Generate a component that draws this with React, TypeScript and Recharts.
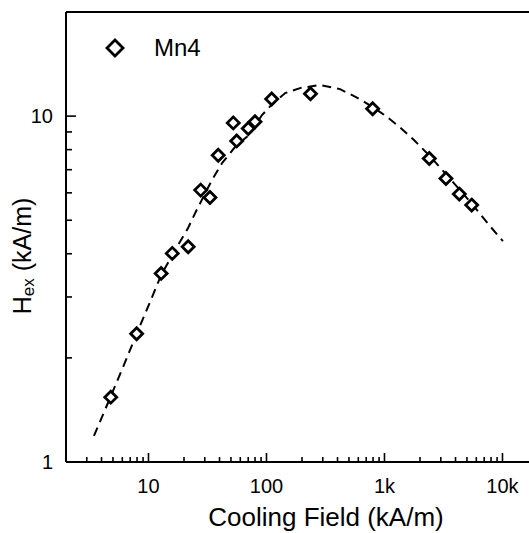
import {
  ScatterChart,
  Scatter,
  XAxis,
  YAxis,
  ReferenceLine,
  Legend,
} from "recharts";

// measured points (Cooling Field kA/m, Hex kA/m)
const fieldValues = [
  4.79, 7.94, 12.8, 15.9, 21.7, 27.7, 33.2, 39.0, 52.3, 55.9, 70.1, 79.9, 110.7,
  236, 794, 2397, 3319, 4306, 5483,
];
const hexValues = [
  1.54, 2.35, 3.51, 4.01, 4.19, 6.11, 5.82, 7.71, 9.56, 8.48, 9.21, 9.63, 11.2,
  11.6, 10.5, 7.54, 6.6, 5.95, 5.53,
];

// dashed fit curve
const fitField = [
  3.45, 4.72, 6.32, 7.99, 10.3, 12.8, 16.8, 21.6, 25.3, 34.5, 42.0, 54.1, 72.4,
  91.6, 111, 144, 192, 284, 420, 573, 799, 1030, 1380, 1814, 2383, 3319, 4365,
  5514, 7834, 10090,
];
const fitHex = [
  1.19, 1.53, 1.94, 2.36, 2.9, 3.47, 4.1, 4.74, 5.31, 6.53, 7.31, 8.14, 8.87,
  10.07, 10.8, 11.66, 12.05, 12.3, 11.97, 11.35, 10.62, 10.0, 9.23, 8.47, 7.71,
  6.8, 6.11, 5.57, 4.81, 4.35,
];

const xTicks = [
  3, 4, 5, 6, 7, 8, 9, 10, 20, 30, 40, 50, 60, 70, 80, 90, 100, 200, 300, 400,
  500, 600, 700, 800, 900, 1000, 2000, 3000, 4000, 5000, 6000, 7000, 8000, 9000,
  10000,
];
const xMajor: Record<number, string> = { 10: "10", 100: "100", 1000: "1k", 10000: "10k" };
const yTicks = [1, 2, 3, 4, 5, 6, 7, 8, 9, 10, 20];
const yMajor: Record<number, string> = { 1: "1", 10: "10" };

const seriesName = "Mn4";

const points = fieldValues.map((x, i) => ({ x, y: hexValues[i] }));
const fit = fitField.map((x, i) => ({ x, y: fitHex[i] }));

const FONT = "Arial, 'Liberation Sans', sans-serif";

const Diamond = (props: any) => {
  const { cx, cy } = props;
  if (cx == null || cy == null) return null;
  const r = 6;
  return (
    <path
      d={`M${cx},${cy - r}L${cx + r},${cy}L${cx},${cy + r}L${cx - r},${cy}Z`}
      fill="#fff"
      stroke="#000"
      strokeWidth={2.8}
    />
  );
};

const XTick = (props: any) => {
  const { x, y, payload } = props;
  const label = xMajor[payload.value];
  const len = label ? 9 : 5;
  return (
    <g>
      <line x1={x} x2={x} y1={y} y2={y - len} stroke="#000" strokeWidth={1.6} />
      {label && (
        <text x={x} y={y + 24} dy="0.35em" textAnchor="middle" fontSize={20} fontFamily={FONT} fill="#000">
          {label}
        </text>
      )}
    </g>
  );
};

const YTick = (props: any) => {
  const { x, y, payload } = props;
  const label = yMajor[payload.value];
  const len = label ? 10 : 6;
  return (
    <g>
      <line x1={x} x2={x + len} y1={y} y2={y} stroke="#000" strokeWidth={1.6} />
      {label && (
        <text x={x - 13} y={y} dy="0.35em" textAnchor="end" fontSize={20} fontFamily={FONT} fill="#000">
          {label}
        </text>
      )}
    </g>
  );
};

const LegendBox = () => (
  <svg width={140} height={36}>
    <path d="M15,10L23,18L15,26L7,18Z" fill="#fff" stroke="#000" strokeWidth={2.8} />
    <text x={54} y={18} dy="0.35em" fontSize={24} fontFamily={FONT} fill="#000">
      {seriesName}
    </text>
  </svg>
);

export default function App() {
  return (
    <div
      style={{
        position: "absolute",
        left: 0,
        top: 0,
        width: 529,
        height: 533,
        overflow: "hidden",
        background: "#fff",
      }}
    >
      <ScatterChart width={560} height={533} margin={{ top: 12, right: 22, bottom: 0, left: 0 }}>
        <XAxis
          type="number"
          dataKey="x"
          scale="log"
          domain={[2, 20000]}
          allowDataOverflow
          ticks={xTicks}
          interval={0}
          height={71}
          tickSize={0}
          tickMargin={0}
          tickLine={false}
          axisLine={{ stroke: "#000", strokeWidth: 2 }}
          tick={<XTick />}
          label={{
            content: () => (
              <text x={326} y={526} textAnchor="middle" fontSize={26} fontFamily={FONT} fill="#000">
                Cooling Field (kA/m)
              </text>
            ),
          }}
        />
        <YAxis
          type="number"
          dataKey="y"
          scale="log"
          domain={[1, 20]}
          allowDataOverflow
          ticks={yTicks}
          interval={0}
          width={66}
          tickSize={0}
          tickMargin={0}
          tickLine={false}
          axisLine={{ stroke: "#000", strokeWidth: 2 }}
          tick={<YTick />}
          label={{
            content: () => (
              <text
                x={22}
                y={256}
                transform="rotate(-90 22 256)"
                textAnchor="middle"
                dominantBaseline="central"
                fontSize={25}
                fontFamily={FONT}
                fill="#000"
              >
                H
                <tspan fontSize={17} dy={6}>ex</tspan>
                <tspan dy={-6}> (kA/m)</tspan>
              </text>
            ),
          }}
        />
        <ReferenceLine y={20} stroke="#000" strokeWidth={2} />
        <Legend
          layout="horizontal"
          verticalAlign="middle"
          align="center"
          wrapperStyle={{ top: 30, left: 100, width: 140, height: 36 }}
          content={() => <LegendBox />}
        />
        <Scatter
          name="fit"
          data={fit}
          line={{ stroke: "#000", strokeWidth: 2, strokeDasharray: "9 6" }}
          lineType="joint"
          shape={() => null}
          legendType="none"
          isAnimationActive={false}
        />
        <Scatter
          name={seriesName}
          data={points}
          shape={<Diamond />}
          isAnimationActive={false}
        />
      </ScatterChart>
    </div>
  );
}
